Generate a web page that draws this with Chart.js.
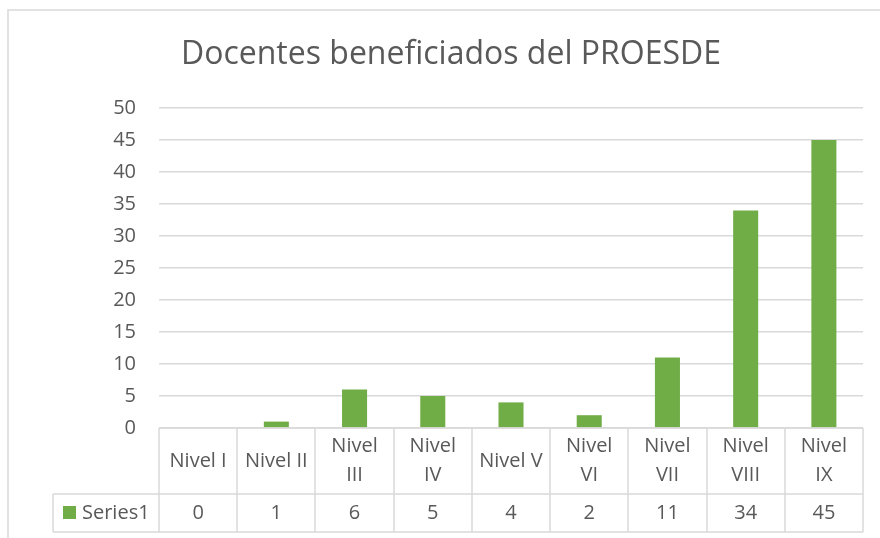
<!DOCTYPE html>
<html>
<head>
<meta charset="utf-8">
<script src="https://cdn.jsdelivr.net/npm/chart.js@4.4.0/dist/chart.umd.min.js"></script>
<style>
  body { margin: 0; background: #fff; }
  canvas { display: block; }
</style>
</head>
<body>
<canvas id="proesdeChart" width="880" height="538"></canvas>
<script>
const categories = ["Nivel I", "Nivel II", ["Nivel", "III"], ["Nivel", "IV"], "Nivel V",
                    ["Nivel", "VI"], ["Nivel", "VII"], ["Nivel", "VIII"], ["Nivel", "IX"]];
const series1 = [0, 1, 6, 5, 4, 2, 11, 34, 45];
const seriesName = "Series1";
const yTicks = [0, 5, 10, 15, 20, 25, 30, 35, 40, 45, 50];
const chartTitle = "Docentes beneficiados del PROESDE";

const textColor = "#595959";
const lineColor = "#d9d9d9";
const barColor = "#70AD47";
const fontFamily = "'Open Sans', sans-serif";

/*=========================================
TITLE + DATA TABLE UNDER THE PLOT
=========================================*/
const dataTable = {
    id: "dataTable",
    afterDraw(chart) {
        const ctx = chart.ctx;
        const area = chart.chartArea;
        const x = chart.scales.x;
        const colW = (area.right - area.left) / categories.length;
        const top = area.bottom;
        const mid = top + 66;
        const bottom = mid + 38;
        const keyLeft = 53;

        ctx.save();

        // outer chart border
        ctx.strokeStyle = lineColor;
        ctx.lineWidth = 1.5;
        ctx.strokeRect(8, 10, 900, 600);

        // title, centred on the chart frame
        ctx.fillStyle = textColor;
        ctx.textAlign = "center";
        ctx.textBaseline = "middle";
        ctx.font = "32px " + fontFamily;
        ctx.fillText(chartTitle, 451, 55);

        // grid of the table
        ctx.beginPath();
        ctx.moveTo(area.left, top); ctx.lineTo(area.right, top);
        ctx.moveTo(keyLeft, mid); ctx.lineTo(area.right, mid);
        ctx.moveTo(keyLeft, bottom); ctx.lineTo(area.right, bottom);
        ctx.moveTo(keyLeft, mid); ctx.lineTo(keyLeft, bottom);
        for (let i = 0; i <= categories.length; i++) {
            const bx = Math.round(area.left + i * colW);
            ctx.moveTo(bx, top); ctx.lineTo(bx, bottom);
        }
        ctx.stroke();

        // category labels and values
        ctx.font = "20px " + fontFamily;
        categories.forEach(function (label, i) {
            const cx = x.getPixelForValue(i);
            const lines = Array.isArray(label) ? label : [label];
            const cy = (top + mid) / 2;
            lines.forEach(function (line, j) {
                ctx.fillText(line, cx, cy + (j - (lines.length - 1) / 2) * 29);
            });
            ctx.fillText(String(series1[i]), cx, (mid + bottom) / 2);
        });

        // legend key + series name
        ctx.fillStyle = barColor;
        ctx.fillRect(63, (mid + bottom) / 2 - 7, 13, 13);
        ctx.fillStyle = textColor;
        ctx.textAlign = "left";
        ctx.fillText(seriesName, 82, (mid + bottom) / 2);

        ctx.restore();
    }
};

new Chart(document.getElementById("proesdeChart"), {
    type: "bar",
    data: {
        labels: categories,
        datasets: [
            {
                label: seriesName,
                data: series1,
                backgroundColor: barColor,
                barPercentage: 0.32,
                categoryPercentage: 1
            }
        ]
    },
    options: {
        responsive: false,
        animation: false,
        devicePixelRatio: 1,
        layout: {
            padding: { top: 108, left: 0, right: 17, bottom: 110 }
        },
        plugins: {
            legend: { display: false },
            tooltip: { enabled: false },
            title: { display: false }
        },
        scales: {
            x: {
                display: false
            },
            y: {
                min: 0,
                max: 50,
                afterBuildTicks: function (scale) {
                    scale.ticks = yTicks.map(v => ({ value: v }));
                },
                afterFit: function (scale) {
                    scale.width = 159;
                },
                border: { display: false },
                grid: { color: lineColor, lineWidth: 1.5, drawTicks: false },
                ticks: {
                    color: textColor,
                    padding: 23,
                    font: { family: fontFamily, size: 20 }
                }
            }
        }
    },
    plugins: [dataTable]
});
</script>
</body>
</html>
